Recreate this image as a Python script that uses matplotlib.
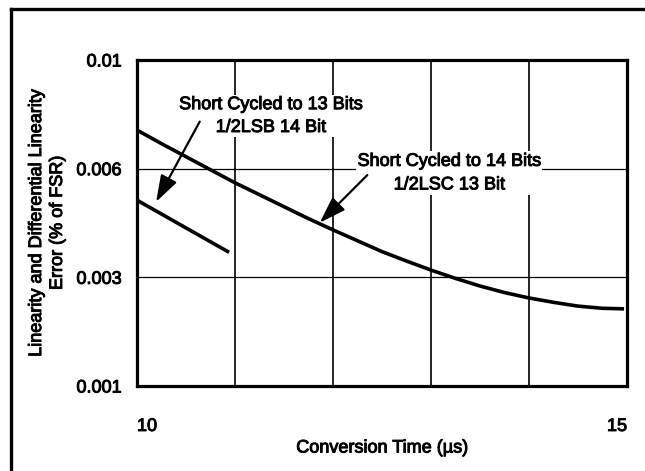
import numpy as np
import matplotlib
matplotlib.use('Agg')
import matplotlib.pyplot as plt
import matplotlib.patheffects as pe
from matplotlib.lines import Line2D

plt.rcParams['font.family'] = ['Liberation Sans', 'DejaVu Sans']

# values
time_14bit = [10, 10.25, 10.5, 10.75, 11, 11.25, 11.5, 11.75, 12, 12.25, 12.5,
              12.75, 13, 13.25, 13.5, 13.75, 14, 14.25, 14.5, 14.75, 14.97]
error_14bit = [0.00742, 0.00692, 0.00644, 0.00597, 0.00561, 0.00528, 0.00495,
               0.00462, 0.00431, 0.00401, 0.00371, 0.00345, 0.00320, 0.00298,
               0.00284, 0.00272, 0.00262, 0.00254, 0.00247, 0.00243, 0.00242]

time_13bit = [10, 10.94]
error_13bit = [0.00513, 0.00369]

y_ticks = [0.001, 0.003, 0.006, 0.01]
y_ticklabels = ['0.001', '0.003', '0.006', '0.01']
x_ticks = [10, 15]
x_grid = [11, 12, 13, 14]

label_13 = 'Short Cycled to 13 Bits\n1/2LSB 14 Bit'
label_14 = 'Short Cycled to 14 Bits\n1/2LSC 13 Bit'


# the chart spaces its y ticks evenly, so map values piecewise onto that
def fwd(v):
    return np.interp(v, y_ticks, [0, 1, 2, 3])


def inv(p):
    return np.interp(p, [0, 1, 2, 3], y_ticks)


fig = plt.figure(figsize=(6.45, 4.71), dpi=100)
ax = fig.add_axes([137 / 645, 1 - 386 / 471, 490 / 645, 326 / 471])
ax.set_yscale('function', functions=(fwd, inv))
ax.set_xlim(10, 15)
ax.set_ylim(0.001, 0.01)

for xg in x_grid:
    ax.axvline(xg, color='black', lw=1.2, zorder=1)
for yg in y_ticks[1:3]:
    ax.axhline(yg, color='black', lw=0.9, zorder=1)

ax.plot(time_14bit, error_14bit, color='black', lw=2.6, solid_capstyle='butt', zorder=3)
ax.plot(time_13bit, error_13bit, color='black', lw=2.6, solid_capstyle='butt', zorder=3)

for s in ax.spines.values():
    s.set_linewidth(2.3)

ax.set_yticks(y_ticks)
ax.set_yticklabels(y_ticklabels)
ax.set_xticks(x_ticks)
ax.set_xticklabels(['10', '15'])
ax.tick_params(axis='both', length=0, labelsize=13)
ax.tick_params(axis='y', pad=11)
ax.tick_params(axis='x', pad=23)
xt = ax.get_xticklabels()
xt[0].set_ha('left')
xt[1].set_ha('right')

ax.set_xlabel('Conversion Time (µs)', fontsize=13, va='center')
ax.xaxis.set_label_coords(0.5, (386 - 448) / 326)
ax.set_ylabel('Linearity and Differential Linearity\nError (% of FSR)', fontsize=13,
              ha='center', va='center', linespacing=1.3)
ax.yaxis.set_label_coords((47 - 137) / 490, 0.5)

box = dict(facecolor='white', edgecolor='none', pad=1)
ax.text(0.273, 0.828, label_13, transform=ax.transAxes, ha='center', va='center',
        fontsize=13, linespacing=1.45, bbox=box, zorder=4)
ax.text(0.637, 0.653, label_14, transform=ax.transAxes, ha='center', va='center',
        fontsize=13, linespacing=1.5, bbox=box, zorder=4)

arrow = dict(arrowstyle='-|>,head_length=0.9,head_width=0.3', color='black', lw=1.6,
             mutation_scale=18, shrinkA=0, shrinkB=0)
ax.annotate('', xy=(0.039, 0.565), xycoords='axes fraction',
            xytext=(0.128, 0.811), textcoords='axes fraction', arrowprops=arrow, zorder=5)
ax.annotate('', xy=(0.373, 0.501), xycoords='axes fraction',
            xytext=(0.470, 0.647), textcoords='axes fraction', arrowprops=arrow, zorder=5)

# scanned print looks heavier than plain regular weight
heavy = [pe.withStroke(linewidth=0.7, foreground='black')]
for t in ax.texts + ax.get_xticklabels() + ax.get_yticklabels() + [ax.xaxis.label, ax.yaxis.label]:
    t.set_path_effects(heavy)

# outer frame of the scanned page: only its top and left edges are in view
fx, fy = 11 / 645, 1 - 9 / 471
fig.add_artist(Line2D([fx, fx], [0, fy], transform=fig.transFigure, color='black', lw=2.4,
                      solid_capstyle='projecting'))
fig.add_artist(Line2D([fx, 1], [fy, fy], transform=fig.transFigure, color='black', lw=2.4,
                      solid_capstyle='projecting'))

fig.savefig('out.png', dpi=100)
